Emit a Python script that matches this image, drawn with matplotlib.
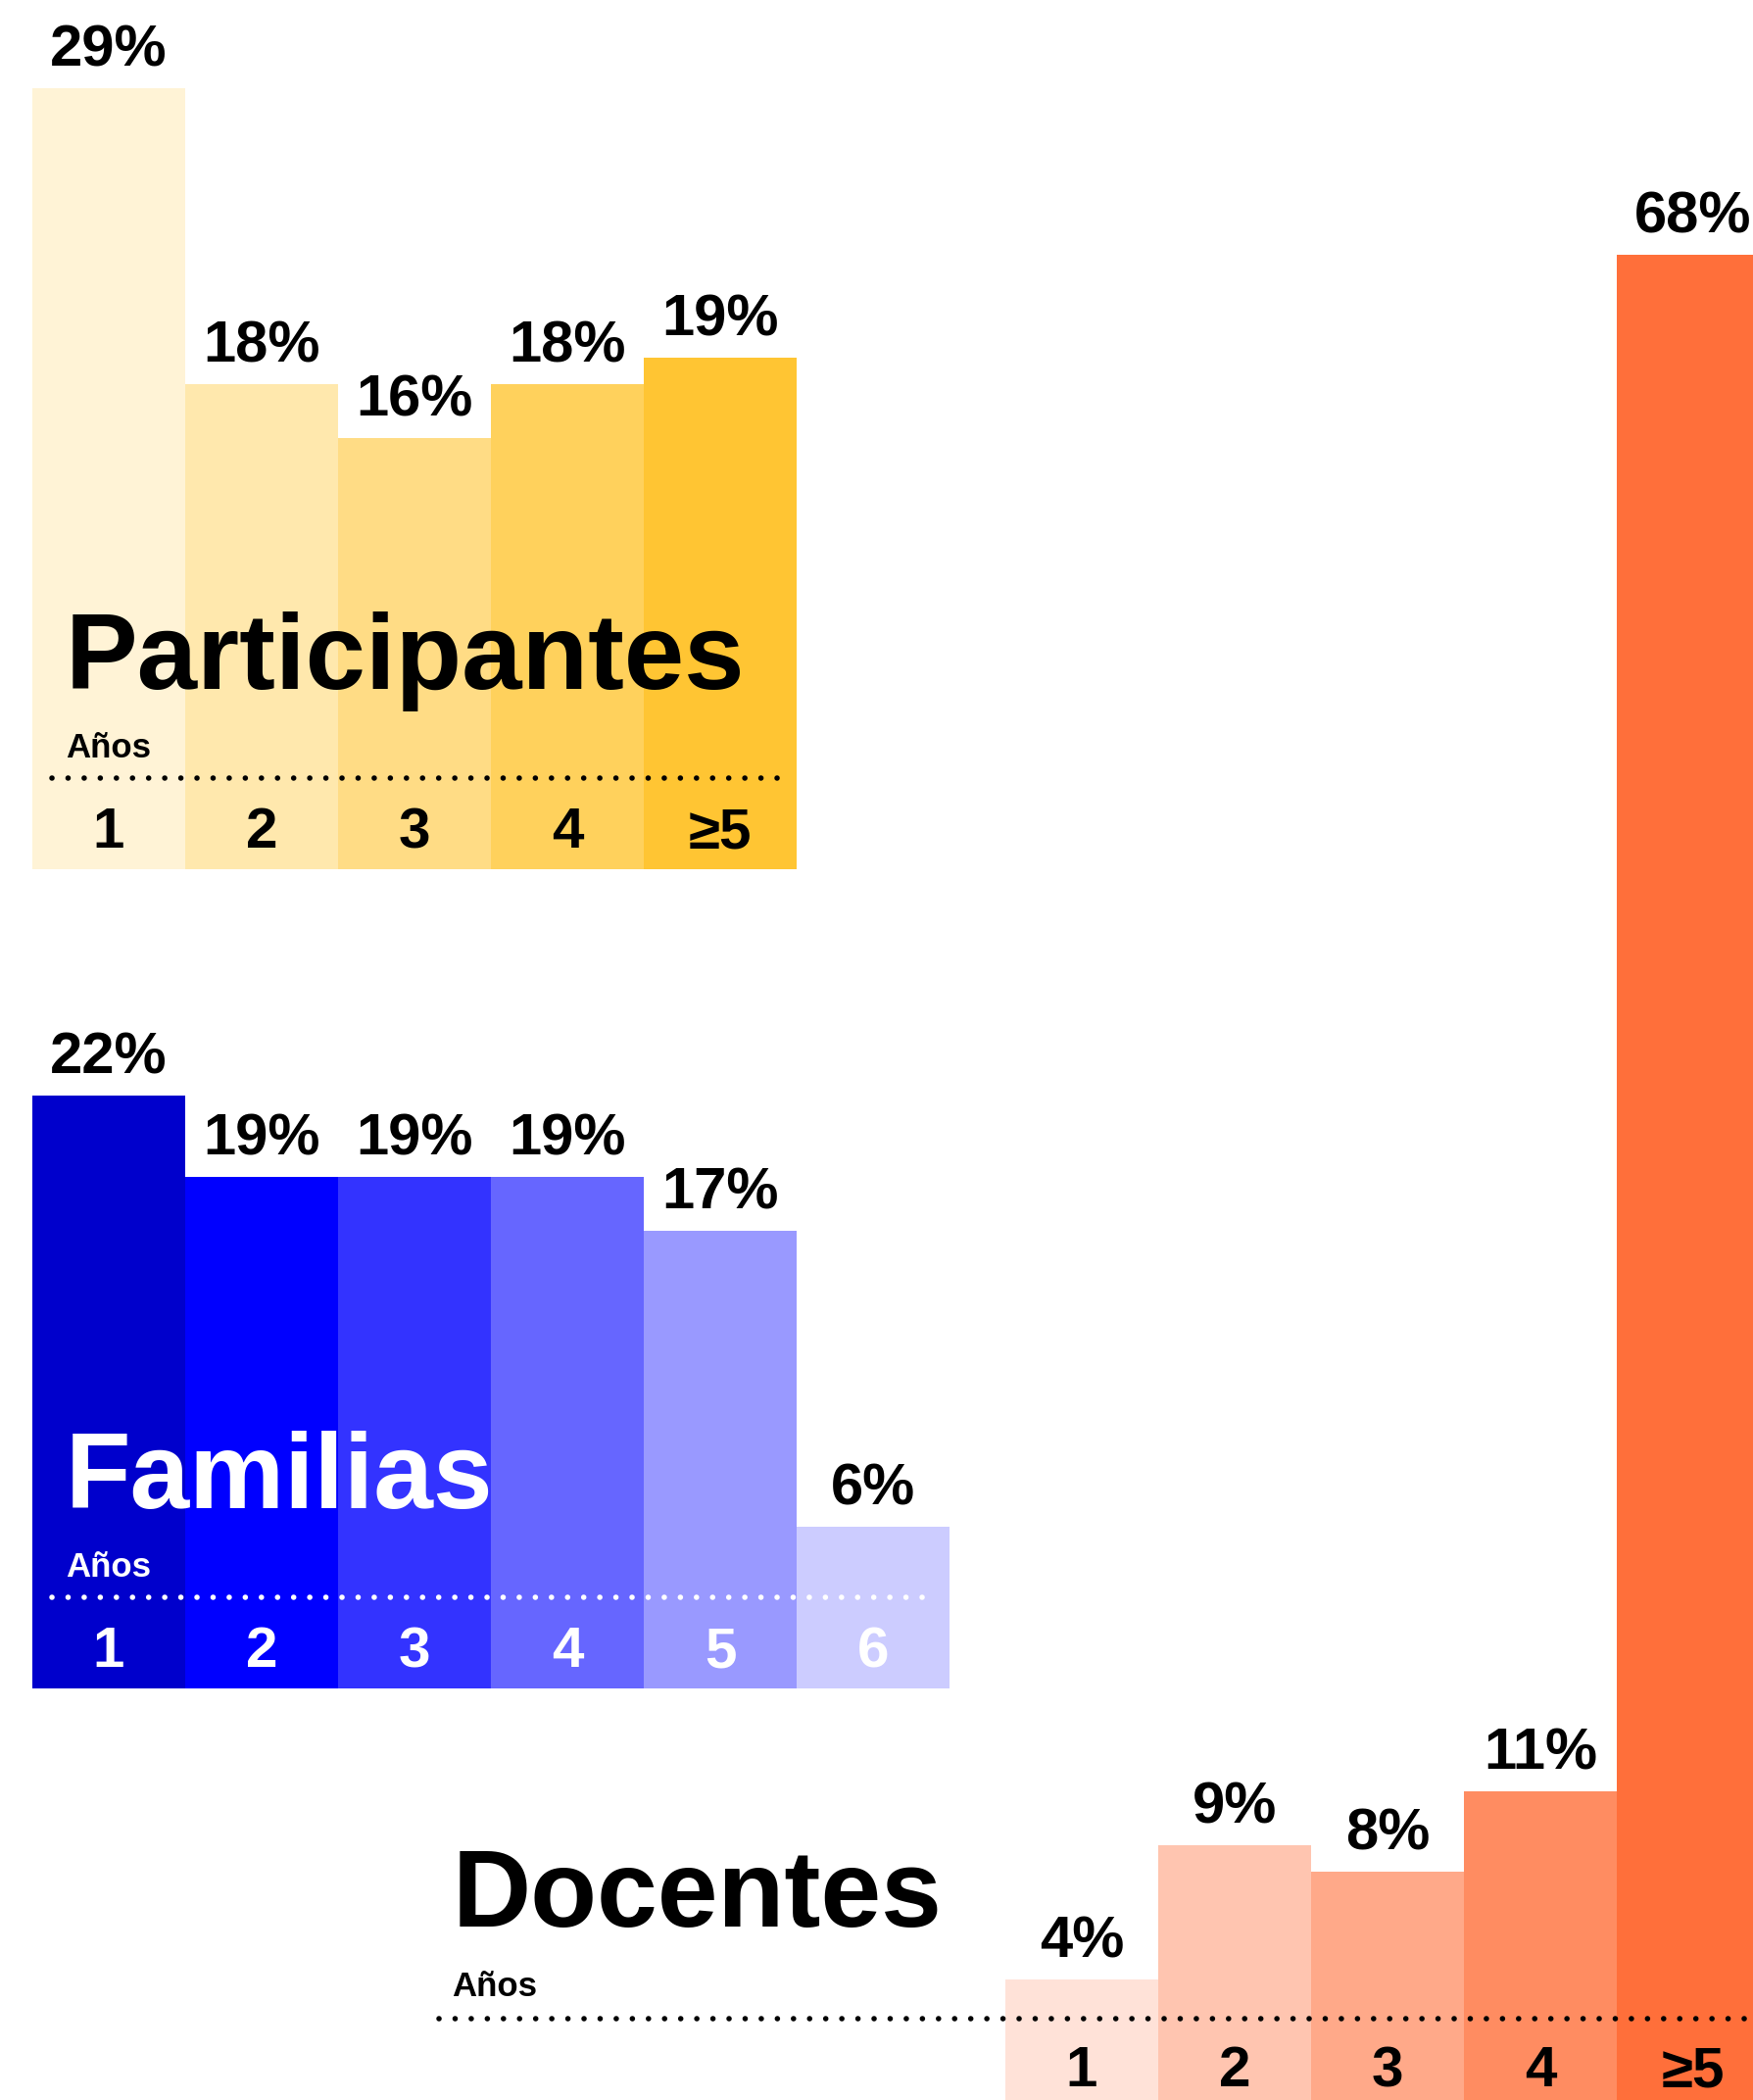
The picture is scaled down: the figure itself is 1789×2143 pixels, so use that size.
import numpy as np
import matplotlib
matplotlib.use("Agg")
import matplotlib.pyplot as plt
from matplotlib.lines import Line2D

plt.rcParams['font.family'] = ['Liberation Sans', 'DejaVu Sans']
plt.rcParams['font.weight'] = 'bold'

# datos
part_labels = ['1', '2', '3', '4', '≥5']
part_values = [29, 18, 16, 18, 19]
fam_labels = ['1', '2', '3', '4', '5', '6']
fam_values = [22, 19, 19, 19, 17, 6]
doc_labels = ['1', '2', '3', '4', '≥5']
doc_values = [4, 9, 8, 11, 68]

part_colors = ['#FFF3D6', '#FFE8AD', '#FFDC85', '#FFD15C', '#FFC533']
fam_colors = ['#0000CC', '#0000FF', '#3333FF', '#6666FF', '#9999FF', '#CCCCFF']
doc_colors = ['#FFE2D8', '#FFC5B0', '#FFA989', '#FF8C61', '#FF6F3A']

W, H = 1789, 2143
SCALE = 27.5      # px por punto porcentual
BAR_W = 156

fig = plt.figure(figsize=(W / 100, H / 100), dpi=100)
fig.patch.set_facecolor('white')


def fx(x):
    return x / W


def fy(y):
    return 1 - y / H


def panel(x0, base_y, values, labels, colors, tick_y, tick_color, pad=0):
    n = len(values)
    ax = fig.add_axes([fx(x0), (H - base_y - pad) / H, n * BAR_W / W, (base_y + pad) / H])
    lo = -pad / SCALE
    ax.set_xlim(-0.5, n - 0.5)
    ax.set_ylim(lo, base_y / SCALE)
    x = np.arange(n)
    ax.bar(x, np.array(values) - lo, bottom=lo, width=1.0, color=colors, linewidth=0)
    for i, v in enumerate(values):
        ax.annotate(f"{v}%", (i, v), xytext=(0, 16), textcoords='offset points',
                    ha='center', va='baseline', fontsize=43, fontweight='bold',
                    color='black', annotation_clip=False)
        ax.text(i, (base_y - tick_y) / SCALE, labels[i], ha='center', va='baseline',
                fontsize=42, fontweight='bold', color=tick_color)
    ax.axis('off')
    return ax


def header(title, x_title, y_title, x_anos, y_anos, dots_x0, dots_x1, dots_y, color, size):
    fig.text(fx(x_title), fy(y_title), title, fontsize=size, fontweight='bold',
             color=color, ha='left', va='baseline', zorder=5)
    fig.text(fx(x_anos), fy(y_anos), 'Años', fontsize=25, fontweight='bold',
             color=color, ha='left', va='baseline', zorder=5)
    fig.add_artist(Line2D([fx(dots_x0), fx(dots_x1)], [fy(dots_y), fy(dots_y)],
                          color=color, linewidth=4.0, linestyle=(0, (0.01, 2.95)),
                          dash_capstyle='round', zorder=5))


# Participantes
panel(33, 887, part_values, part_labels, part_colors, 865, 'black')
header('Participantes', 67, 703, 67, 773, 53, 795, 794, 'black', 79.5)

# Familias
panel(33, 1723, fam_values, fam_labels, fam_colors, 1701, 'white')
header('Familias', 67, 1539, 67, 1609, 53, 943, 1630, 'white', 78.5)

# Docentes
panel(1026, 2130, doc_values, doc_labels, doc_colors, 2129, 'black', pad=13)
header('Docentes', 462, 1966, 461, 2037, 448, 1789, 2060, 'black', 80)

fig.savefig('out.png', dpi=100, facecolor='white')
